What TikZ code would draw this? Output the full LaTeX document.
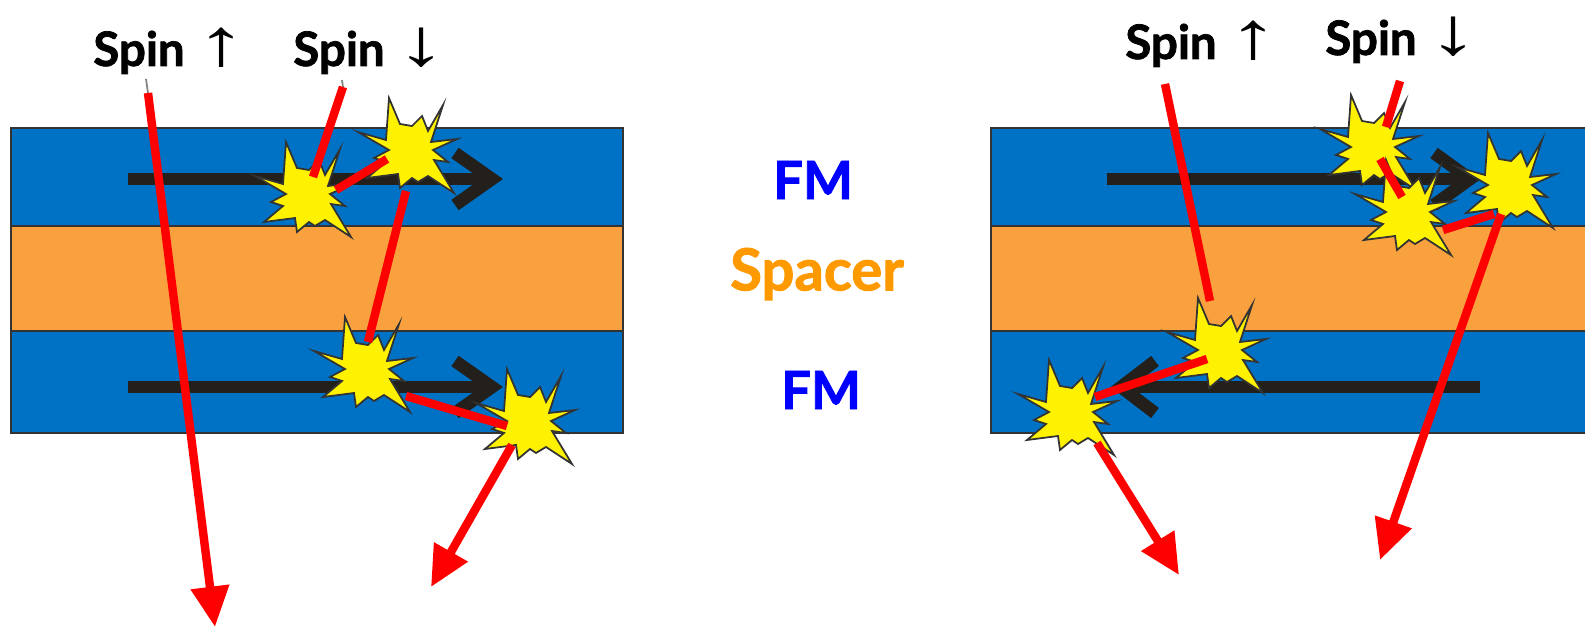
\documentclass[tikz,border=0pt]{standalone}
\usepackage{fontspec}
\setmainfont[BoldFeatures={FakeBold=1.6}]{Lato}
\newfontfamily\arrowfont[FakeStretch=1.5]{Liberation Sans}
\usepackage{tikz}
\usetikzlibrary{positioning,arrows.meta}
\definecolor{fmblue}{HTML}{0072C6}
\definecolor{spacerorange}{HTML}{F9A13E}
\definecolor{edgegrey}{HTML}{333333}
\definecolor{momentblack}{HTML}{231F1A}
\tikzset{
    fmlayer/.style={fill=fmblue,draw=edgegrey,line width=0.8pt},
    spacerlayer/.style={fill=spacerorange,draw=edgegrey,line width=0.8pt},
    moment/.style={draw=momentblack,line width=7.2pt,miter limit=10},
    track/.style={draw=red,line width=4.8pt},
    trackout/.style={track,-{Triangle[length=23pt,width=21pt]}},
    stub/.style={draw=gray,line width=1pt},
    spinlabel/.style={anchor=base west,inner sep=0pt,font=\fontsize{27}{30}\selectfont\bfseries},
    stacklabel/.style={inner sep=0pt,font=\fontsize{30}{32}\selectfont\bfseries},
    burst/.pic={
        \draw[fill=yellow,draw=edgegrey,line width=1pt,miter limit=10]
            (-21,-52)--(-10,-26)--(2,-24)--(12,-34)--(18,-19)--(33,-45)--(21,-8)--(47,-11)
            --(23,0)--(38,12)--(24,10)--(44,43)--(18,26)--(8,32)--(2,28)--(-10,38)
            --(-12,24)--(-43,28)--(-24,12)--(-36,8)--(-21,0)--(-52,-18)--(-24,-10)--cycle;
    }
}
\newcommand{\uparr}{{\arrowfont\mdseries\fontsize{38}{38}\selectfont ↑}}
\newcommand{\downarr}{{\arrowfont\mdseries\fontsize{38}{38}\selectfont ↓}}
\begin{document}
\begin{tikzpicture}[x=0.02cm,y=-0.02cm]
\useasboundingbox (0,0) rectangle (1585,628);

% layer stacks
\draw[fmlayer] (11,128) rectangle (623,226);
\draw[spacerlayer] (11,226) rectangle (623,331);
\draw[fmlayer] (11,331) rectangle (623,433);
\draw[fmlayer] (991,128) rectangle (1586,226);
\draw[spacerlayer] (991,226) rectangle (1586,331);
\draw[fmlayer] (991,331) rectangle (1586,433);

% magnetisation arrows
\coordinate (topLtail) at (128,179);
\coordinate (topLtip) at (492,179);
\coordinate (botLtail) at (128,387);
\coordinate (botLtip) at (492,387);
\coordinate (topRtail) at (1107,179);
\coordinate (topRtip) at (1470,179);
\coordinate (botRtail) at (1480,387);
\coordinate (botRtip) at (1121,387);
\draw[moment] (topLtail) -- (topLtip);
\draw[moment] (455,153) -- (topLtip) -- (455,205);
\draw[moment] (botLtail) -- (botLtip);
\draw[moment] (455,361) -- (botLtip) -- (455,413);
\draw[moment] (topRtail) -- (topRtip);
\draw[moment] (1434,153) -- (topRtip) -- (1434,205);
\draw[moment] (botRtail) -- (botRtip);
\draw[moment] (1155,361) -- (botRtip) -- (1155,413);

% scattering events
\coordinate (burstA) at (307,194);
\coordinate (burstB) at (410,150);
\coordinate (burstC) at (366,369);
\coordinate (burstD) at (528,421);
\coordinate (burstE) at (1372,147);
\coordinate (burstF) at (1407,212);
\coordinate (burstG) at (1509,185);
\coordinate (burstH) at (1219,350);
\coordinate (burstI) at (1070,412);
\foreach \where in {burstA,burstB,burstC,burstD,burstE,burstF,burstG,burstH,burstI}
    \pic at (\where) {burst};

% spin labels
\node[spinlabel] (spinupL) at (93,66) {Spin \uparr};
\node[spinlabel] (spindownL) at (293,66) {Spin \downarr};
\node[spinlabel] (spinupR) at (1125,59) {Spin \uparr};
\node[spinlabel] (spindownR) at (1325,55) {Spin \downarr};

% layer names
\node[stacklabel,text={rgb,255:red,0;green,0;blue,255}] (fmtop) at (813,180) {FM};
\node[stacklabel,font=\fontsize{33}{34}\selectfont\bfseries,text={rgb,255:red,255;green,153;blue,0}] (spacer) at (817,274) {Spacer};
\node[stacklabel,text={rgb,255:red,0;green,0;blue,255}] (fmbot) at (821,390) {FM};

% left electron paths
\coordinate (upLin) at (148,93);
\coordinate (upLout) at (215,627);
\draw[stub] (146,79) -- (upLin);
\draw[trackout] (upLin) -- (upLout);
\coordinate (downLin) at (343,87);
\coordinate (downLa) at (313,177);
\draw[stub] (342,80) -- (downLin);
\draw[track] (downLin) -- (downLa);
\coordinate (hopAa) at (336,190);
\coordinate (hopAb) at (387,159);
\draw[track] (hopAa) -- (hopAb);
\coordinate (hopBa) at (406,191);
\coordinate (hopBb) at (368,342);
\draw[track] (hopBa) -- (hopBb);
\coordinate (hopCa) at (406,396);
\coordinate (hopCb) at (507,426);
\draw[track] (hopCa) -- (hopCb);
\coordinate (exitLa) at (512,445);
\coordinate (exitLb) at (431,587);
\draw[trackout] (exitLa) -- (exitLb);

% right electron paths
\coordinate (upRin) at (1165,84);
\coordinate (upRa) at (1210,301);
\draw[track] (upRin) -- (upRa);
\coordinate (hopDa) at (1207,359);
\coordinate (hopDb) at (1095,397);
\draw[track] (hopDa) -- (hopDb);
\coordinate (exitRa) at (1097,443);
\coordinate (exitRb) at (1179,575);
\draw[trackout] (exitRa) -- (exitRb);
\coordinate (downRin) at (1400,81);
\coordinate (downRa) at (1386,127);
\draw[track] (downRin) -- (downRa);
\coordinate (hopEa) at (1380,159);
\coordinate (hopEb) at (1402,197);
\draw[track] (hopEa) -- (hopEb);
\coordinate (hopFa) at (1443,230);
\coordinate (hopFb) at (1494,214);
\draw[track] (hopFa) -- (hopFb);
\coordinate (exitSa) at (1501,214);
\coordinate (exitSb) at (1380,560);
\draw[trackout] (exitSa) -- (exitSb);
\end{tikzpicture}
\end{document}
